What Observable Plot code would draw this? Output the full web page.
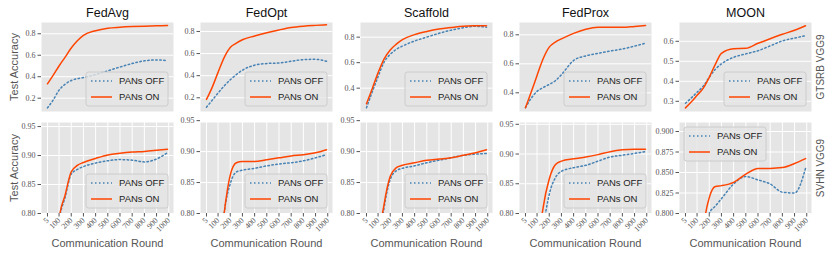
<!DOCTYPE html>
<html><head><meta charset="utf-8">
<script src="https://cdn.jsdelivr.net/npm/d3@7"></script>
<script src="https://cdn.jsdelivr.net/npm/@observablehq/plot@0.6"></script>
<style>
html,body{margin:0;padding:0;background:#fff;}
#chart{position:relative;width:830px;height:255px;overflow:hidden;background:#fff;}
#chart svg{position:absolute;overflow:visible;}
</style></head><body><div id="chart"></div>
<script>
const algorithms = ["FedAvg", "FedOpt", "Scaffold", "FedProx", "MOON"];
const datasets = ["GTSRB VGG9", "SVHN VGG9"];
const seriesNames = ["PANs OFF", "PANs ON"];
const rounds = [5, 50, 100, 150, 200, 250, 300, 400, 500, 600, 700, 800, 900, 990];
const xTicks = [5, 100, 200, 300, 400, 500, 600, 700, 800, 900, 1000];

// GTSRB VGG9
const gtsrbFedAvgOff   = [0.11, 0.18, 0.275, 0.33, 0.365, 0.382, 0.392, 0.42, 0.455, 0.49, 0.523, 0.548, 0.556, 0.55];
const gtsrbFedAvgOn    = [0.334, 0.41, 0.50, 0.583, 0.667, 0.735, 0.785, 0.829, 0.852, 0.861, 0.867, 0.871, 0.874, 0.877];
const gtsrbFedOptOff   = [0.115, 0.175, 0.243, 0.307, 0.363, 0.41, 0.45, 0.495, 0.51, 0.515, 0.53, 0.545, 0.548, 0.53];
const gtsrbFedOptOn    = [0.185, 0.29, 0.43, 0.564, 0.655, 0.694, 0.725, 0.759, 0.788, 0.814, 0.836, 0.848, 0.855, 0.86];
const gtsrbScaffoldOff = [0.246, 0.365, 0.49, 0.605, 0.665, 0.705, 0.73, 0.77, 0.80, 0.83, 0.855, 0.874, 0.885, 0.878];
const gtsrbScaffoldOn  = [0.278, 0.39, 0.52, 0.63, 0.70, 0.745, 0.78, 0.82, 0.845, 0.864, 0.876, 0.886, 0.889, 0.89];
const gtsrbFedProxOff  = [0.297, 0.36, 0.41, 0.436, 0.458, 0.483, 0.525, 0.623, 0.655, 0.672, 0.688, 0.702, 0.722, 0.742];
const gtsrbFedProxOn   = [0.297, 0.40, 0.52, 0.635, 0.715, 0.75, 0.772, 0.81, 0.838, 0.852, 0.853, 0.852, 0.858, 0.864];
const gtsrbMoonOff     = [0.29, 0.315, 0.345, 0.375, 0.42, 0.46, 0.487, 0.52, 0.537, 0.553, 0.577, 0.602, 0.616, 0.628];
const gtsrbMoonOn      = [0.267, 0.295, 0.33, 0.365, 0.42, 0.485, 0.54, 0.563, 0.565, 0.59, 0.613, 0.635, 0.655, 0.678];

// SVHN VGG9
const svhnFedAvgOff   = [0.20, 0.55, 0.785, 0.828, 0.868, 0.876, 0.881, 0.887, 0.891, 0.893, 0.892, 0.889, 0.894, 0.905];
const svhnFedAvgOn    = [0.20, 0.55, 0.79, 0.832, 0.872, 0.883, 0.888, 0.895, 0.901, 0.904, 0.906, 0.907, 0.909, 0.911];
const svhnFedOptOff   = [0.20, 0.45, 0.69, 0.80, 0.848, 0.867, 0.870, 0.873, 0.877, 0.880, 0.882, 0.885, 0.89, 0.895];
const svhnFedOptOn    = [0.20, 0.45, 0.70, 0.80, 0.862, 0.882, 0.884, 0.884, 0.887, 0.890, 0.893, 0.895, 0.898, 0.903];
const svhnScaffoldOff = [0.20, 0.50, 0.735, 0.81, 0.855, 0.869, 0.873, 0.877, 0.882, 0.886, 0.890, 0.894, 0.896, 0.897];
const svhnScaffoldOn  = [0.20, 0.50, 0.74, 0.815, 0.86, 0.874, 0.878, 0.882, 0.886, 0.888, 0.890, 0.894, 0.898, 0.903];
const svhnFedProxOff  = [0.20, 0.40, 0.65, 0.77, 0.832, 0.86, 0.871, 0.877, 0.881, 0.888, 0.895, 0.898, 0.901, 0.904];
const svhnFedProxOn   = [0.20, 0.45, 0.72, 0.81, 0.858, 0.882, 0.888, 0.892, 0.895, 0.899, 0.904, 0.907, 0.908, 0.908];
const svhnMoonOff     = [0.20, 0.40, 0.60, 0.73, 0.80, 0.809, 0.818, 0.836, 0.845, 0.841, 0.836, 0.826, 0.825, 0.855];
const svhnMoonOn      = [0.20, 0.40, 0.62, 0.775, 0.819, 0.833, 0.834, 0.838, 0.848, 0.855, 0.855, 0.856, 0.861, 0.867];

// y-axis ticks per panel
const yTicksGtsrb = [[0.2, 0.4, 0.6, 0.8], [0.2, 0.4, 0.6, 0.8], [0.4, 0.6, 0.8], [0.4, 0.6, 0.8], [0.3, 0.4, 0.5, 0.6]];
const yTicksSvhn = [[0.80, 0.85, 0.90, 0.95], [0.80, 0.85, 0.90, 0.95], [0.80, 0.85, 0.90, 0.95], [0.80, 0.85, 0.90, 0.95], [0.800, 0.825, 0.850, 0.875, 0.900]];

const offSeries = [[gtsrbFedAvgOff, gtsrbFedOptOff, gtsrbScaffoldOff, gtsrbFedProxOff, gtsrbMoonOff],
                   [svhnFedAvgOff, svhnFedOptOff, svhnScaffoldOff, svhnFedProxOff, svhnMoonOff]];
const onSeries = [[gtsrbFedAvgOn, gtsrbFedOptOn, gtsrbScaffoldOn, gtsrbFedProxOn, gtsrbMoonOn],
                  [svhnFedAvgOn, svhnFedOptOn, svhnScaffoldOn, svhnFedProxOn, svhnMoonOn]];

// scale configuration (matplotlib-like autoscaled limits)
const yDomains = [[[0.076, 0.905], [0.076, 0.881], [0.217, 0.915], [0.271, 0.885], [0.249, 0.694]],
                  [[0.8, 0.957], [0.8, 0.947], [0.8, 0.947], [0.8, 0.953], [0.8, 0.911]]];
const yFormats = [[".1f", ".1f", ".1f", ".1f", ".1f"], [".2f", ".2f", ".2f", ".2f", ".3f"]];
const xDomain = [-44, 1039];

const colLefts = [41, 200, 360, 519, 679];
const frameW = 132;
const rowTops = [22, 122];
const rowHeights = [89, 91];

const OFF_COLOR = "#4682B4", ON_COLOR = "#FF4500";
const SANS = "Liberation Sans", SERIF = "Liberation Serif";

const chart = document.getElementById("chart");

function addLegend(svg, fx0, fy0, fx1, fy1, loc) {
  const bw = 82, bh = 34, gap = 5;
  const bx = loc === "upper left" ? fx0 + gap : fx1 - gap - bw;
  const by = loc === "upper left" ? fy0 + gap : fy1 - gap - bh;
  const g = d3.select(svg).append("g");
  g.append("rect").attr("x", bx).attr("y", by).attr("width", bw).attr("height", bh)
    .attr("rx", 2.5).attr("fill", "#E5E5E5").attr("fill-opacity", 0.8)
    .attr("stroke", "#CCCCCC").attr("stroke-width", 1);
  seriesNames.forEach((name, i) => {
    const yy = by + 9 + i * 16;
    const line = g.append("line").attr("x1", bx + 5).attr("x2", bx + 26).attr("y1", yy).attr("y2", yy)
      .attr("stroke", i === 0 ? OFF_COLOR : ON_COLOR).attr("stroke-width", 1.5);
    if (i === 0) line.attr("stroke-dasharray", "1.5,2.5");
    g.append("text").attr("x", bx + 33).attr("y", yy).attr("dy", "0.35em").attr("text-anchor", "start")
      .attr("font-family", SANS).attr("font-size", 9.5).attr("fill", "#222").text(name);
  });
}

for (let r = 0; r < 2; r++) {
  for (let c = 0; c < 5; c++) {
    const off = offSeries[r][c], on = onSeries[r][c];
    const offData = rounds.map((x, i) => ({round: x, acc: off[i], series: seriesNames[0]}));
    const onData = rounds.map((x, i) => ({round: x, acc: on[i], series: seriesNames[1]}));
    const mL = c === 0 ? 41 : 30;
    const mR = c === 4 ? 19 : 2;
    const mT = r === 0 ? 22 : 8;
    const mB = r === 0 ? 2 : 42;
    const width = mL + frameW + mR;
    const height = mT + rowHeights[r] + mB;
    const yTicks = r === 0 ? yTicksGtsrb[c] : yTicksSvhn[c];
    const marks = [
      Plot.frame({fill: "#E5E5E5", stroke: "none"}),
      Plot.gridY(yTicks, {stroke: "white", strokeOpacity: 1, strokeWidth: 1}),
    ];
    if (r === 1) {
      marks.push(Plot.gridX(xTicks, {stroke: "white", strokeOpacity: 1, strokeWidth: 1}));
      marks.push(Plot.axisX(xTicks, {tickRotate: -45, tickSize: 3.5, tickPadding: 2, fontSize: 8,
        fontFamily: SERIF, color: "#555", label: null, tickFormat: d => String(d)}));
      marks.push(Plot.text(["Communication Round"], {frameAnchor: "bottom", dy: 30, text: d => d,
        fontFamily: SANS, fontSize: 11, fill: "#555", lineAnchor: "middle", textAnchor: "middle"}));
    }
    marks.push(Plot.axisY(yTicks, {tickSize: 3.5, tickPadding: 2.5, fontSize: 8, fontFamily: SERIF,
      color: "#555", label: null, tickFormat: d3.format(yFormats[r][c])}));
    marks.push(Plot.line(offData, {x: "round", y: "acc", stroke: OFF_COLOR, strokeWidth: 1.5,
      strokeDasharray: "1.5,2.5", curve: "monotone-x", clip: true}));
    marks.push(Plot.line(onData, {x: "round", y: "acc", stroke: ON_COLOR, strokeWidth: 1.5,
      curve: "monotone-x", clip: true}));
    if (r === 0) {
      marks.push(Plot.text([algorithms[c]], {frameAnchor: "top", dy: -10, text: d => d,
        fontFamily: SANS, fontSize: 12.5, fill: "#111", lineAnchor: "middle", textAnchor: "middle"}));
    }
    if (c === 0) {
      marks.push(Plot.text(["Test Accuracy"], {frameAnchor: "left", dx: -27, rotate: -90, text: d => d,
        fontFamily: SANS, fontSize: 11, fill: "#555", lineAnchor: "middle", textAnchor: "middle"}));
    }
    if (c === 4) {
      marks.push(Plot.text([datasets[r]], {frameAnchor: "right", dx: 9, rotate: -90, text: d => d,
        fontFamily: SANS, fontSize: 10, fill: "#555", lineAnchor: "middle", textAnchor: "middle"}));
    }
    const svg = Plot.plot({
      width, height,
      marginLeft: mL, marginRight: mR, marginTop: mT, marginBottom: mB,
      x: {domain: xDomain, axis: null},
      y: {domain: yDomains[r][c], axis: null},
      style: {background: "transparent", overflow: "visible"},
      marks
    });
    svg.style.left = (colLefts[c] - mL) + "px";
    svg.style.top = (rowTops[r] - mT) + "px";
    svg.style.position = "absolute";
    const loc = (r === 1 && c === 4) ? "upper left" : "lower right";
    addLegend(svg, mL, mT, width - mR, height - mB, loc);
    chart.appendChild(svg);
  }
}
</script></body></html>
